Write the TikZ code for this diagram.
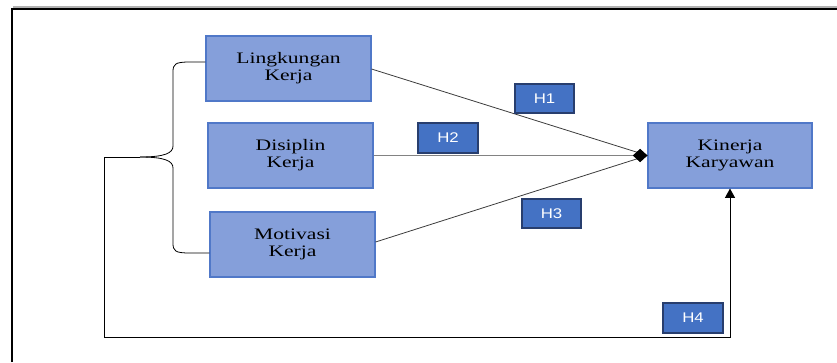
\documentclass[tikz,border=0pt]{standalone}
\usepackage{fontspec}
\usetikzlibrary{arrows.meta}
\newfontfamily\boxfont[FakeStretch=1.35]{Liberation Serif}
\newfontfamily\hfont[FakeStretch=1.2]{Liberation Sans}
\definecolor{boxfill}{RGB}{133,159,218}
\definecolor{boxline}{RGB}{80,120,200}
\definecolor{hfill}{RGB}{68,114,196}
\definecolor{hline}{RGB}{40,62,110}
\definecolor{lnA}{RGB}{60,60,60}
\definecolor{lnB}{RGB}{130,130,130}
\tikzset{
  varbox/.style={draw=boxline, line width=0.8pt, fill=boxfill, inner sep=0pt, align=center,
    font=\boxfont\fontsize{12}{12.6}\selectfont, text=black},
  hbox/.style={draw=hline, line width=1pt, fill=hfill, inner sep=0pt,
    font=\hfont\fontsize{10.5}{11}\selectfont, text=white},
  conn/.style={line width=0.6pt},
}
\begin{document}
\begin{tikzpicture}[x=0.75pt, y=-0.75pt]
\useasboundingbox (0,0) rectangle (837,362);
% frame
\draw[gray!60, line width=0.9pt] (13,7) -- (837,7);
\draw[black, line width=1pt] (12,362) -- (12,9) -- (837,9);
% variable boxes
\node[varbox, minimum width=165*0.75pt, minimum height=65*0.75pt] (ling) at (288.5,68.5) {Lingkungan\\Kerja};
\node[varbox, minimum width=165*0.75pt, minimum height=65*0.75pt] (disi) at (290.5,155.5) {Disiplin\\Kerja};
\node[varbox, minimum width=165*0.75pt, minimum height=65*0.75pt] (moti) at (292.5,244.5) {Motivasi\\Kerja};
\node[varbox, minimum width=164*0.75pt, minimum height=65*0.75pt] (kin) at (730,155.5) {Kinerja\\Karyawan};
% connectors to Kinerja
\draw[conn, lnA] (ling.east |- 0,69) coordinate (l1) -- (kin.west);
\draw[conn, lnA] (moti.east |- 0,242) coordinate (m1) -- (kin.west);
\draw[conn, lnB, -{Diamond[length=11pt,width=10pt,color=black,fill=black]}] (disi.east) -- (kin.west);
% brace
\coordinate (tip) at (140,157);
\draw[conn, black] (ling.west |- 0,62) -- (190,62) .. controls (175,62) and (173,64) .. (173,72)
  -- (173,146) .. controls (173,153) and (165,157) .. (tip);
\draw[conn, black] (moti.west |- 0,253) -- (190,253) .. controls (175,253) and (173,251) .. (173,243)
  -- (173,168) .. controls (173,161) and (165,157) .. (tip);
% H4 path
\coordinate (c1) at (104,337);
\draw[conn, black, line width=0.75pt, -{Triangle[length=7pt,width=7.5pt]}] (tip) -| (c1) -| (kin.south);
% hypothesis labels
\node[hbox, minimum width=59*0.75pt, minimum height=29*0.75pt] (h1) at (544.5,98.5) {H1};
\node[hbox, minimum width=60*0.75pt, minimum height=30*0.75pt] (h2) at (448,138) {H2};
\node[hbox, minimum width=59*0.75pt, minimum height=29*0.75pt] (h3) at (551.5,213.5) {H3};
\node[hbox, minimum width=60*0.75pt, minimum height=30*0.75pt] (h4) at (693,318) {H4};
\end{tikzpicture}
\end{document}
